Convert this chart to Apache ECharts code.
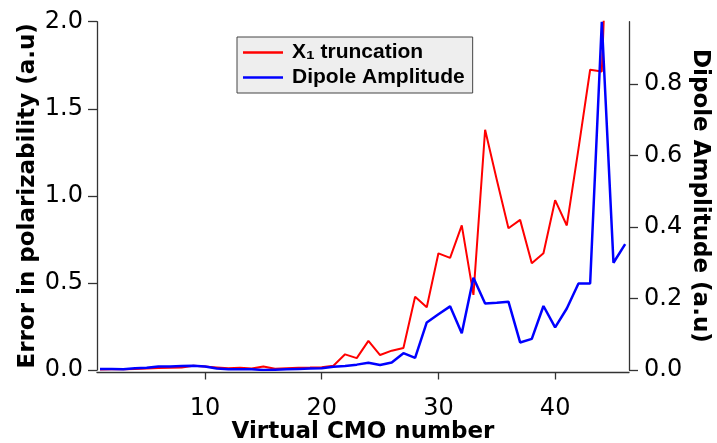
<!DOCTYPE html>
<html>
<head>
<meta charset="utf-8">
<script src="https://cdn.jsdelivr.net/npm/echarts@6/dist/echarts.min.js"></script>
<style>
html,body{margin:0;padding:0;background:#fff;}
#chart{width:717px;height:443px;}
</style>
</head>
<body>
<div id="chart"></div>
<script>
var cmoNumbers = [1,2,3,4,5,6,7,8,9,10,11,12,13,14,15,16,17,18,19,20,21,22,23,24,25,26,27,28,29,30,31,32,33,34,35,36,37,38,39,40,41,42,43,44,45,46];
var truncationError = [0.003,0.004,0.005,0.006,0.008,0.012,0.013,0.015,0.024,0.02,0.015,0.01,0.013,0.008,0.02,0.007,0.01,0.013,0.014,0.016,0.024,0.09,0.068,0.167,0.086,0.111,0.126,0.421,0.36,0.67,0.644,0.83,0.431,1.379,1.092,0.814,0.862,0.613,0.67,0.975,0.83,1.27,1.724,1.714,3.5,null];
var dipoleAmplitude = [0.003,0.003,0.002,0.005,0.006,0.01,0.01,0.011,0.012,0.01,0.004,0.002,0.002,0.002,0.0,0.001,0.002,0.003,0.004,0.005,0.009,0.011,0.015,0.02,0.014,0.021,0.047,0.034,0.133,0.156,0.178,0.103,0.258,0.186,0.188,0.191,0.077,0.087,0.179,0.119,0.172,0.242,0.242,0.974,0.30,0.352];
var xTickValues = [10,20,30,40];
var leftTicks = [0,0.5,1.0,1.5,2.0];
var rightTicks = [0,0.2,0.4,0.6,0.8];
var seriesNames = ['X\u2081 truncation','Dipole Amplitude'];

function pairs(xs, ys){ return xs.map(function(x,i){ return [x, ys[i]]; }); }

var chart = echarts.init(document.getElementById('chart'), null, {renderer:'canvas'});
var labelFont = {color:'#000', fontFamily:'DejaVu Sans', fontSize:24};
var titleFont = {color:'#000', fontFamily:'DejaVu Sans', fontWeight:'bold', fontSize:23};
chart.setOption({
  animation:false,
  backgroundColor:'#fff',
  grid:{left:97, right:88, top:21.7, bottom:73, containLabel:false, outerBoundsMode:'none'},
  legend:{
    orient:'vertical', left:237, top:37,
    data:seriesNames,
    icon:'rect', itemWidth:40, itemHeight:2.5, itemGap:4,
    backgroundColor:'#eeeeee', borderColor:'#444', borderWidth:1,
    padding:[5,8,5,6],
    textStyle:{color:'#000', fontFamily:'Liberation Sans', fontWeight:'bold', fontSize:21, padding:[0,0,0,4]}
  },
  xAxis:{
    type:'value', min:0.743, max:46.33, offset:2.5,
    axisLine:{show:true, onZero:false, lineStyle:{color:'#333', width:1.3}},
    axisTick:{show:true, inside:false, length:7, customValues:xTickValues, lineStyle:{color:'#333', width:1.3}},
    axisLabel:Object.assign({margin:24, customValues:xTickValues}, labelFont),
    splitLine:{show:false},
    name:'Virtual CMO number', nameLocation:'middle', nameGap:48, nameMoveOverlap:false,
    nameTextStyle:titleFont
  },
  yAxis:[{
    type:'value', min:0, max:2.0, interval:0.5, position:'left',
    axisLine:{show:true, lineStyle:{color:'#333', width:1.3}},
    axisTick:{show:true, inside:false, length:9, customValues:leftTicks, lineStyle:{color:'#333', width:1.3}},
    axisLabel:Object.assign({margin:14, customValues:leftTicks, formatter:function(v){return v.toFixed(1);}}, labelFont),
    splitLine:{show:false},
    name:'Error in polarizability (a.u)', nameLocation:'middle', nameGap:57, nameRotate:90, nameMoveOverlap:false,
    nameTextStyle:titleFont
  },{
    type:'value', min:0, max:0.974, position:'right',
    axisLine:{show:true, lineStyle:{color:'#333', width:1.3}},
    axisTick:{show:true, inside:false, length:9, customValues:rightTicks, lineStyle:{color:'#333', width:1.3}},
    axisLabel:Object.assign({margin:15, customValues:rightTicks, formatter:function(v){return v.toFixed(1);}}, labelFont),
    splitLine:{show:false},
    name:'Dipole Amplitude (a.u)', nameLocation:'middle', nameGap:59, nameRotate:-90, nameMoveOverlap:false,
    nameTextStyle:titleFont
  }],
  series:[{
    name:seriesNames[0], type:'line', yAxisIndex:0,
    data:pairs(cmoNumbers, truncationError),
    showSymbol:false, symbol:'none', clip:true,
    lineStyle:{color:'#ff0000', width:2}, itemStyle:{color:'#ff0000'}
  },{
    name:seriesNames[1], type:'line', yAxisIndex:1,
    data:pairs(cmoNumbers, dipoleAmplitude),
    showSymbol:false, symbol:'none', clip:true,
    lineStyle:{color:'#0000ff', width:2.5}, itemStyle:{color:'#0000ff'}
  }]
});
</script>
</body>
</html>
